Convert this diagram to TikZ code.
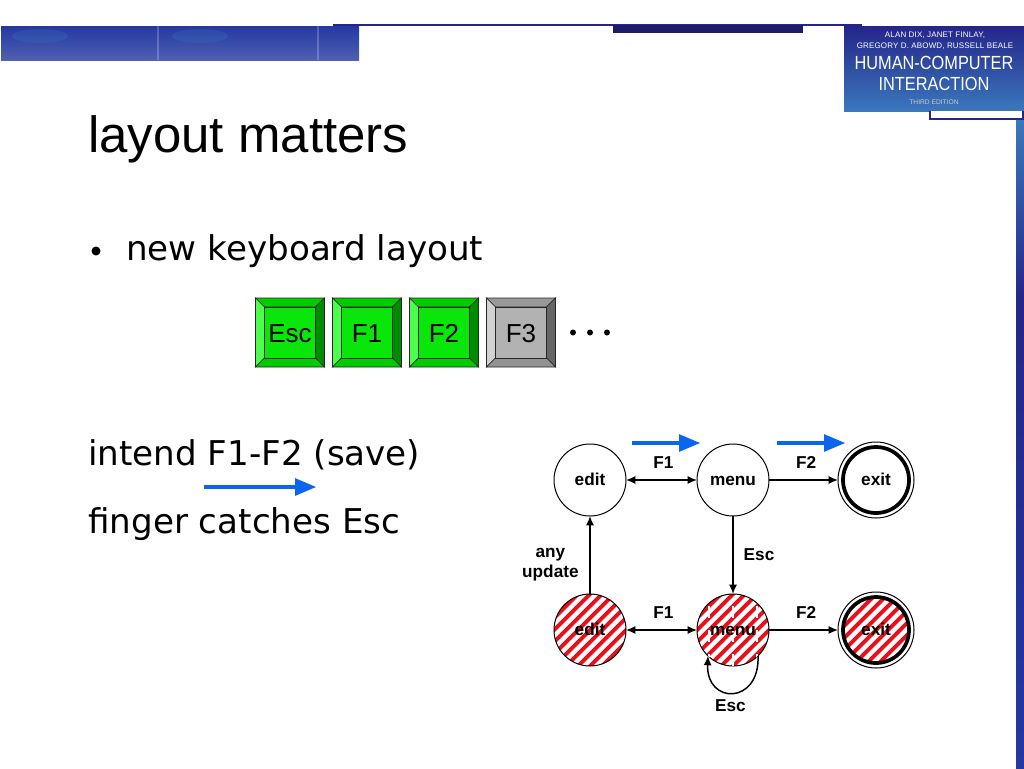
\documentclass[tikz,border=0pt]{standalone}
\usepackage{fontspec}
\setmainfont{Liberation Sans}
\newfontfamily\bodyfont{DejaVu Sans}
\newfontfamily\coverfont[FakeStretch=0.86]{Liberation Sans}
\newfontfamily\coversmall[LetterSpace=2]{Liberation Sans}
\usetikzlibrary{arrows}
\usetikzlibrary{arrows.meta}
\usetikzlibrary{positioning}
\definecolor{navy}{HTML}{25258A}
\definecolor{bandblue}{HTML}{2438A0}
\definecolor{bandlight}{HTML}{3A78BC}
\definecolor{swipe}{HTML}{0A66EE}
\definecolor{keygreen}{HTML}{0AE60A}
\definecolor{hatchred}{HTML}{E8101A}
\tikzset{
  state/.style={circle, draw, fill=white, minimum size=54pt, inner sep=0pt, outer sep=0pt, line width=0.75pt, text height=8pt, text depth=0pt, font=\fontsize{12.9}{14}\selectfont\bfseries},
  stateexit/.style={state, minimum size=49.5pt, line width=2.8pt},
  statering/.style={circle, draw, fill=white, minimum size=57pt, inner sep=0pt, outer sep=0pt, line width=0.75pt},
  hatched/.style={path picture={
      \foreach \d in {-84,-72,...,84}
        \draw[hatchred, line width=2.9pt] (path picture bounding box.center) ++(\d-45,45) -- ++(90,-90);
    }},
  hatchedcut/.style={hatched, postaction={path picture={
      \foreach \d in {-24,0,24}
        \draw[white, line width=0.8pt, dashed] (path picture bounding box.center) ++(\d,-40) -- ++(0,80);
    }}},
  edgelabel/.style={font=\fontsize{12.9}{15}\selectfont\bfseries, inner sep=2pt},
  edge/.style={line width=1.1pt, >={Latex[length=7pt,width=6pt]}},
  swipearrow/.style={swipe, line width=2.7pt, -triangle 45},
  bodytext/.style={anchor=base west, inner sep=0pt, font=\bodyfont\fontsize{25.6}{28}\selectfont},
  keylabel/.style={font=\fontsize{19.5}{24}\selectfont, inner sep=0pt, text height=14pt, text depth=0pt},
  coverline/.style={white, inner sep=0pt, font=\coversmall\fontsize{6}{7}\selectfont},
  covertitle/.style={white, inner sep=0pt, font=\coverfont\fontsize{14.25}{16}\selectfont}
}
\newcommand{\keycap}[8]{
  \begin{scope}[shift={(#2,298)}, draw=black!85, line width=0.5pt]
    \filldraw[fill=#5] (0,0) -- (69,0) -- (60,9) -- (9,9) -- cycle;
    \filldraw[fill=#6] (0,0) -- (9,9) -- (9,60) -- (0,69) -- cycle;
    \filldraw[fill=#7] (69,0) -- (60,9) -- (60,60) -- (69,69) -- cycle;
    \filldraw[fill=#8] (0,69) -- (9,60) -- (60,60) -- (69,69) -- cycle;
    \filldraw[fill=#4] (9,9) rectangle (60,60);
    \node[keylabel] (#1) at (34.5,35) {#3};
  \end{scope}
}
\begin{document}
\begin{tikzpicture}[x=0.75pt, y=-0.75pt]
    \useasboundingbox (0,0) rectangle (1024,768);

    \shade[top color=bandblue, bottom color=bandblue!80!white] (1,26) rectangle (359,60);
    \foreach \bandx in {40,200}
      \fill[bandlight, opacity=0.25] (\bandx,36) ellipse [x radius=28, y radius=7];
    \foreach \bandx in {157,317}
      \fill[white, opacity=0.2] (\bandx,26) rectangle ++(2,34);
    \shade[top color=bandlight, bottom color=navy] (1016,119) rectangle (1024,300);
    \shade[top color=navy, bottom color=bandblue] (1016,300) rectangle (1024,768);
    \draw[navy, line width=1pt] (333,25) -- (862,25);
    \fill[navy!75!black] (613,25) rectangle (803,33);
    \shade[top color=navy, middle color=bandblue, bottom color=bandlight] (844,26) rectangle (1024,111);
    \draw[navy, line width=0.8pt, fill=white] (930,111) |- (1023,119) -- (1023,111);

    \node[coverline] (author1) at (935,35) {ALAN DIX, JANET FINLAY,};
    \node[coverline, below=3pt of author1] (author2) {GREGORY D. ABOWD, RUSSELL BEALE};
    \node[covertitle] (hci1) at (934,63) {HUMAN-COMPUTER};
    \node[covertitle] (hci2) at (934,84) {INTERACTION};
    \node[coverline, gray!40, font=\fontsize{5}{6}\selectfont] (edition) at (934,102) {THIRD EDITION};

    \node[anchor=base west, inner sep=0pt, font=\fontsize{38.2}{44}\selectfont] (title) at (88,152) {layout matters};
    \fill (96,251) circle [radius=4.5];
    \node[bodytext] (newkeys) at (126,260) {new keyboard layout};
    \node[bodytext] (intend) at (88,465) {intend F1-F2 (save)};
    \node[bodytext] (finger) at (88,533) {finger catches Esc};

    \keycap{keyesc}{255.5}{Esc}{keygreen}{green!80!black}{green!70!white}{green!55!black}{green!80!black}
    \keycap{keyf1}{332.5}{F1}{keygreen}{green!80!black}{green!70!white}{green!55!black}{green!80!black}
    \keycap{keyf2}{409.5}{F2}{keygreen}{green!80!black}{green!70!white}{green!55!black}{green!80!black}
    \keycap{keyf3}{486.5}{F3}{gray!60}{gray!80}{gray!35}{black!60}{gray!85}

    \foreach \dotx in {573,590,607}
      \fill (\dotx,332.5) circle [radius=3];

    \node[state] (edit) at (590,480) {edit};
    \node[state, on grid, right=107.25pt of edit] (menu) {menu};
    \node[statering, on grid, right=107.25pt of menu] (ring) {};
    \node[stateexit] (exit) at (ring) {exit};

    \node[state, hatched, on grid, below=112.5pt of edit] (editbad) {edit};
    \node[state, hatchedcut, on grid, below=112.5pt of menu] (menubad) {menu};
    \node[statering, on grid, below=112.5pt of ring] (ringbad) {};
    \node[stateexit, hatched] (exitbad) at (ringbad) {exit};

    \draw[edge, <->] (edit) -- node[edgelabel, above=6pt, xshift=1.5pt] {F1} (menu);
    \draw[edge, ->] (menu) -- node[edgelabel, above=6pt, xshift=2pt] {F2} (ring);
    \draw[edge, ->] (menu) -- node[edgelabel, right=5.5pt] {Esc} (menubad);
    \draw[edge, ->] (editbad) -- node[edgelabel, left=6pt, align=center, yshift=-7pt] {any\\update} (edit);
    \draw[edge, <->] (editbad) -- node[edgelabel, above=6pt, xshift=1.5pt] {F1} (menubad);
    \draw[edge, ->] (menubad) -- node[edgelabel, above=6pt, xshift=2pt] {F2} (ringbad);
    \draw[edge, ->] (menubad.-46) .. controls +(2,49) and +(-2,49) .. node[edgelabel, below=2.5pt, xshift=-2pt] {Esc} (menubad.-134);

    \coordinate (intendstart) at (204,487);
    \coordinate (intendend) at (316,487);
    \coordinate (swipe1start) at (632,443);
    \coordinate (swipe1end) at (700,443);
    \coordinate (swipe2start) at (777,443);
    \coordinate (swipe2end) at (845,443);
    \draw[swipearrow] (intendstart) -- (intendend);
    \draw[swipearrow] (swipe1start) -- (swipe1end);
    \draw[swipearrow] (swipe2start) -- (swipe2end);
\end{tikzpicture}
\end{document}
